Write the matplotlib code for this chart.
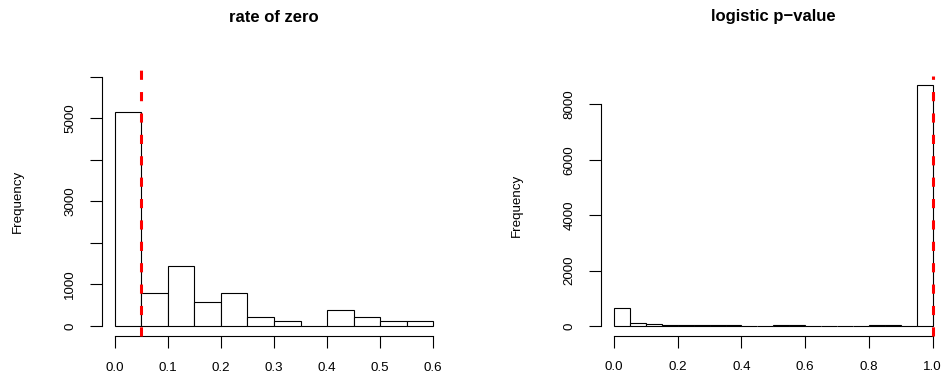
import numpy as np
import matplotlib
matplotlib.use("Agg")
import matplotlib.pyplot as plt

# rate of zero histogram (bin width 0.05)
zero_edges = [0.0, 0.05, 0.1, 0.15, 0.2, 0.25, 0.3, 0.35, 0.4, 0.45, 0.5, 0.55, 0.6]
zero_counts = [5140, 800, 1445, 570, 785, 225, 115, 0, 395, 220, 115, 130]
zero_cut = 0.05

# logistic p-value histogram (bin width 0.05)
pval_edges = [0.0, 0.05, 0.1, 0.15, 0.2, 0.25, 0.3, 0.35, 0.4, 0.45, 0.5,
              0.55, 0.6, 0.65, 0.7, 0.75, 0.8, 0.85, 0.9, 0.95, 1.0]
pval_counts = [640, 110, 70, 45, 40, 40, 25, 20, 15, 15, 20,
               20, 15, 15, 15, 15, 20, 20, 10, 8690]
pval_cut = 1.0

plt.rcParams.update({
    'font.family': ['Liberation Sans', 'DejaVu Sans'],
    'font.size': 9.6,
})

W, H = 945, 389
fig = plt.figure(figsize=(W / 100, H / 100), dpi=100)


def px_axes(x0, x1, y_top, y_bot):
    return fig.add_axes([x0 / W, 1 - y_bot / H, (x1 - x0) / W, (y_bot - y_top) / H])


def r_hist(ax, edges, counts, cut, xticks, yticks, ylabels, ytop, title):
    edges = np.array(edges)
    widths = np.diff(edges)
    ax.bar(edges[:-1], counts, width=widths, align='edge',
           facecolor='white', edgecolor='black', linewidth=0.8)
    xr = edges[-1] - edges[0]
    ax.set_xlim(edges[0] - 0.04 * xr, edges[-1] + 0.04 * xr)
    ax.set_ylim(-0.04 * ytop, 1.04 * ytop)
    lo, hi = ax.get_ylim()
    # abline(v=...) drawn from bottom to top, dashed red
    ax.plot([cut, cut], [lo, hi], color='red', linewidth=2.2,
            dashes=(3, 4), clip_on=False, zorder=5)

    for s in ['top', 'right']:
        ax.spines[s].set_visible(False)
    ax.spines['left'].set_bounds(yticks[0], yticks[-1])
    ax.spines['bottom'].set_bounds(xticks[0], xticks[-1])
    for s in ['left', 'bottom']:
        ax.spines[s].set_linewidth(0.8)

    ax.set_xticks(xticks)
    ax.set_xticklabels(['%.1f' % t for t in xticks])
    ax.set_yticks(yticks)
    ax.set_yticklabels(ylabels, rotation=90, va='center')
    ax.tick_params(axis='both', direction='out', length=8.6, width=0.8)
    ax.tick_params(axis='x', pad=10)
    ax.tick_params(axis='y', pad=10)

    # title and y label placed like R's mtext lines
    bb = ax.get_position()
    xc = (bb.x0 + bb.x1) / 2
    yc = (bb.y0 + bb.y1) / 2
    fig.text(xc, 1 - 17 / H, title, ha='center', va='center',
             fontweight='bold', fontsize=12)
    fig.text(bb.x0 - 84 / W, yc, 'Frequency', rotation=90,
             ha='center', va='center')


ax1 = px_axes(102, 446, 66.7, 336)
r_hist(ax1, zero_edges, zero_counts, zero_cut,
       [0.0, 0.1, 0.2, 0.3, 0.4, 0.5, 0.6],
       [0, 1000, 2000, 3000, 4000, 5000, 6000],
       ['0', '1000', '', '3000', '', '5000', ''],
       6000, 'rate of zero')

ax2 = px_axes(601.3, 945.4, 75.6, 335.6)
r_hist(ax2, pval_edges, pval_counts, pval_cut,
       [0.0, 0.2, 0.4, 0.6, 0.8, 1.0],
       [0, 2000, 4000, 6000, 8000],
       ['0', '2000', '4000', '6000', '8000'],
       max(pval_counts), 'logistic p\u2212value')

fig.savefig('out.png', dpi=100)
